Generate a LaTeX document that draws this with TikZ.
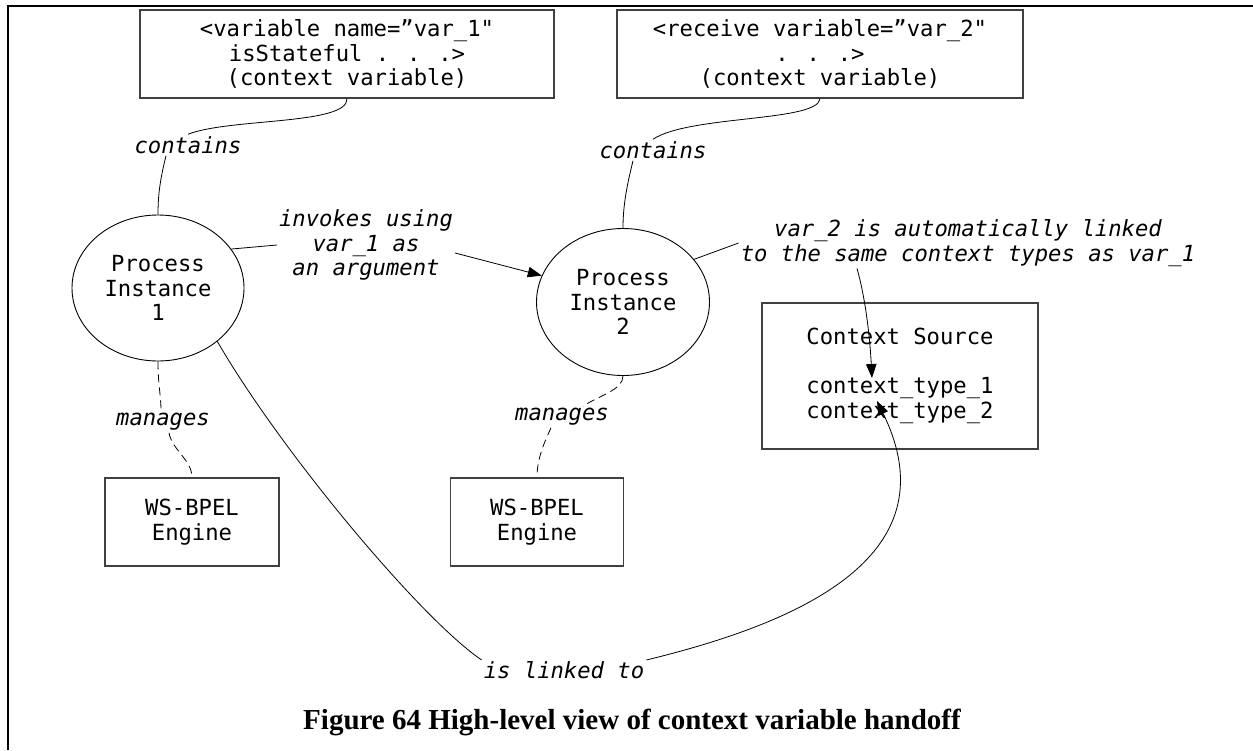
\documentclass[tikz,border=0pt]{standalone}
\usepackage{fontspec}
\newfontfamily\mono{DejaVu Sans Mono}
\newfontfamily\capfont{Liberation Serif}
\usetikzlibrary{shapes.geometric,arrows.meta}
\begin{document}
\begin{tikzpicture}[x=1pt,y=-1pt,
  txt/.style={font={\mono\fontsize{22.2pt}{24.5pt}\selectfont}},
  box/.style={txt,draw=black!75,line width=1.3pt,rectangle,inner sep=0pt,align=center},
  ell/.style={txt,draw,line width=0.9pt,ellipse,inner sep=0pt,align=center},
  lbl/.style={font={\mono\itshape\fontsize{22.2pt}{24.5pt}\selectfont},inner sep=2pt,align=center},
  conn/.style={line width=0.8pt},
  dsh/.style={conn,dash pattern=on 8pt off 5pt},
  arr/.style={conn,-{Triangle[length=14pt,width=10.5pt]}}]
\useasboundingbox (0,0) rectangle (1253,750);
\draw[line width=2.5pt] (8,750) -- (8,6) -- (1253,6);

\node[box,minimum width=414pt,minimum height=88pt] (v1) at (347,54) {<variable name=”var\_1"\\isStateful . . .>\\(context variable)};
\node[box,minimum width=406pt,minimum height=88pt] (v2) at (820,54) {<receive variable=”var\_2"\\. . .>\\(context variable)};
\node[ell,minimum width=172pt,minimum height=146pt] (pi1) at (158,288) {Process\\Instance\\1};
\node[ell,minimum width=173pt,minimum height=147pt] (pi2) at (623,302) {Process\\Instance\\2};
\node[box,minimum width=174pt,minimum height=88pt] (e1) at (192,522) {WS-BPEL\\Engine};
\node[box,minimum width=173pt,minimum height=88pt] (e2) at (537,522) {WS-BPEL\\Engine};
\node[box,minimum width=276pt,minimum height=146pt] (cs) at (900,376) {Context Source\\[24.5pt]context\_type\_1\\context\_type\_2};

\node[lbl] (c1) at (188,145) {contains};
\node[lbl] (c2) at (653,150) {contains};
\node[lbl] (inv) at (366,245) {invokes using\\var\_1 as\\an argument};
\node[lbl] (auto) at (968,243) {var\_2 is automatically linked\\to the same context types as var\_1};
\node[lbl] (m1) at (163,422) {manages};
\node[lbl] (m2) at (562,417) {manages};
\node[lbl] (lk) at (564,670) {is linked to};
\node[font={\capfont\bfseries\fontsize{29pt}{32pt}\selectfont},inner sep=0pt] (cap) at (632,722) {Figure 64 High-level view of context variable handoff};

\coordinate (t1) at (872,378);
\coordinate (t2) at (877,401);

\draw[conn] (v1.south) .. controls (348,125) and (230,118) .. (c1.north);
\draw[conn] ([xshift=-22pt]c1.south) .. controls (160,180) and (158,195) .. (pi1.north);
\draw[conn] (v2.south) .. controls (818,122) and (690,115) .. (c2.north);
\draw[conn] ([xshift=-20pt]c2.south) .. controls (627,185) and (623,205) .. (pi2.north);
\draw[conn] (pi1.28) -- (inv.west);
\draw[arr] ([yshift=-8pt]inv.east) -- (pi2.162);
\draw[conn] (pi2.31) -- (auto.west);
\draw[arr] ([xshift=-111pt]auto.south) .. controls (866,300) and (870,340) .. (t1);
\draw[conn] (pi1.-42) .. controls (280,450) and (420,618) .. ([yshift=10pt]lk.west);
\draw[arr] ([yshift=10pt]lk.east) .. controls (790,625) and (955,560) .. (t2);
\draw[dsh] (pi1.south) .. controls (158,385) and (161,395) .. ([xshift=-2pt]m1.north);
\draw[dsh] ([xshift=6pt]m1.south) .. controls (172,450) and (192,460) .. (e1.north);
\draw[dsh] (pi2.south) .. controls (623,390) and (600,395) .. ([xshift=21pt]m2.north);
\draw[dsh] ([xshift=-11pt]m2.south) .. controls (543,445) and (537,460) .. (e2.north);
\end{tikzpicture}
\end{document}
